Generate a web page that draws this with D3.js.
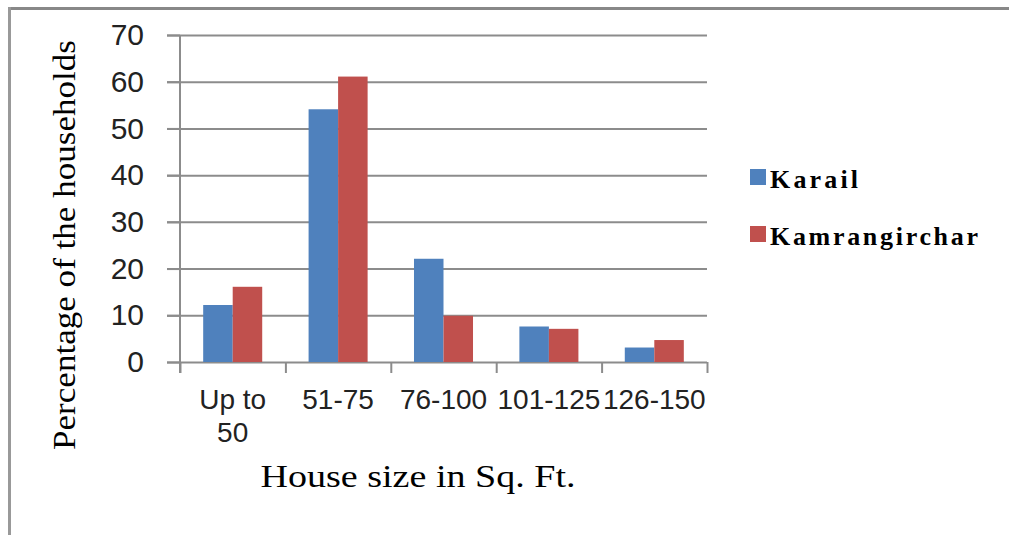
<!DOCTYPE html>
<html>
<head>
<meta charset="utf-8">
<script src="https://cdn.jsdelivr.net/npm/d3@7"></script>
<style>
  body { margin: 0; background: #fff; }
  svg { display: block; }
</style>
</head>
<body>
<svg id="chart" width="1009" height="535"></svg>
<script>
// values (percent of households)
var categories = ["Up to 50", "51-75", "76-100", "101-125", "126-150"];
var seriesNames = ["Karail", "Kamrangirchar"];
var karail = [12.2, 54.1, 22.1, 7.6, 3.1];
var kamrangirchar = [16.1, 61.1, 9.9, 7.1, 4.7];
var yTicks = [0, 10, 20, 30, 40, 50, 60, 70];

var colors = ["#4f81bd", "#c0504d"];
var gridColor = "#8c8c8c";

var svg = d3.select("#chart"),
  margin = {top: 35, right: 302, bottom: 173, left: 180},
  width = +svg.attr("width") - margin.left - margin.right,
  height = +svg.attr("height") - margin.top - margin.bottom;

// outer frame (only top and left edges show)
svg.append("line")
  .attr("x1", 8).attr("y1", 8.5).attr("x2", 1009).attr("y2", 8.5)
  .attr("stroke", "#888").attr("stroke-width", 3);
svg.append("line")
  .attr("x1", 9.5).attr("y1", 7).attr("x2", 9.5).attr("y2", 535)
  .attr("stroke", "#999").attr("stroke-width", 3);

var g = svg.append("g").attr("transform", "translate(" + margin.left + "," + margin.top + ")");

var data = categories.map(function(c, i) {
  return {cat: c, values: [karail[i], kamrangirchar[i]]};
});

var x0 = d3.scaleBand()
  .domain(categories)
  .range([0, width])
  .paddingInner(0.44)
  .paddingOuter(0.22);

var x1 = d3.scaleBand()
  .domain(d3.range(seriesNames.length))
  .range([0, x0.bandwidth()]);

var y = d3.scaleLinear()
  .domain([0, 70])
  .range([height, 0]);

// gridlines, running a bit left of the axis like the ticks
g.append("g")
  .attr("class", "grid")
  .attr("transform", "translate(" + width + ",0)")
  .call(d3.axisLeft(y).tickValues(yTicks).tickSize(width + 13).tickFormat(""))
  .call(function(s) { s.select(".domain").remove(); })
  .selectAll("line")
  .attr("stroke", gridColor)
  .attr("stroke-width", 2);

// y axis
var yAxis = g.append("g")
  .call(d3.axisLeft(y).tickValues(yTicks).tickSize(13).tickPadding(23));
yAxis.select(".domain").remove();
yAxis.selectAll("line").attr("stroke", gridColor).attr("stroke-width", 2);
yAxis.selectAll("text")
  .attr("fill", "#222")
  .style("font-family", "'Liberation Sans', Arial, sans-serif")
  .style("font-size", "30px");

g.append("line")
  .attr("x1", 0).attr("x2", 0)
  .attr("y1", 0).attr("y2", height + 11)
  .attr("stroke", gridColor).attr("stroke-width", 2);

// bars
g.append("g")
  .selectAll("g")
  .data(data)
  .enter().append("g")
  .attr("transform", function(d) { return "translate(" + x0(d.cat) + ",0)"; })
  .selectAll("rect")
  .data(function(d) { return d.values; })
  .enter().append("rect")
  .attr("x", function(d, i) { return x1(i); })
  .attr("y", function(d) { return y(d); })
  .attr("width", x1.bandwidth())
  .attr("height", function(d) { return height - y(d); })
  .attr("fill", function(d, i) { return colors[i]; });

// x axis line + boundary ticks
var xb = d3.scaleLinear().domain([0, categories.length]).range([0, width]);
var xTickAxis = g.append("g")
  .attr("transform", "translate(0," + height + ")")
  .call(d3.axisBottom(xb).ticks(categories.length).tickSize(11).tickFormat(""));
xTickAxis.select(".domain").remove();
xTickAxis.selectAll("line").attr("stroke", gridColor).attr("stroke-width", 2);

// x labels
var xAxis = g.append("g")
  .attr("transform", "translate(0," + height + ")")
  .call(d3.axisBottom(x0).tickSize(0).tickPadding(27));
xAxis.select(".domain").remove();
xAxis.selectAll("text")
  .attr("fill", "#222")
  .style("font-family", "'Liberation Sans', Arial, sans-serif")
  .style("font-size", "28px")
  .call(wrap, 95);

function wrap(text, w) {
  text.each(function() {
    var t = d3.select(this),
      words = t.text().split(/\s+/).reverse(),
      word, line = [], lineNo = 0,
      yy = t.attr("y"), dy = parseFloat(t.attr("dy")),
      tspan = t.text(null).append("tspan").attr("x", 0).attr("y", yy).attr("dy", dy + "em");
    while ((word = words.pop())) {
      line.push(word);
      tspan.text(line.join(" "));
      if (tspan.node().getComputedTextLength() > w && line.length > 1) {
        line.pop();
        tspan.text(line.join(" "));
        line = [word];
        tspan = t.append("tspan").attr("x", 0).attr("y", yy)
          .attr("dy", (++lineNo * 1.2 + dy) + "em").text(word);
      }
    }
  });
}

// axis titles
svg.append("text")
  .attr("x", 418)
  .attr("y", 487)
  .attr("text-anchor", "middle")
  .attr("textLength", 315)
  .attr("lengthAdjust", "spacingAndGlyphs")
  .style("font-family", "'Liberation Serif', 'Times New Roman', serif")
  .style("font-size", "31px")
  .text("House size in Sq. Ft.");

svg.append("text")
  .attr("transform", "translate(75,245) rotate(-90)")
  .attr("text-anchor", "middle")
  .attr("textLength", 410)
  .attr("lengthAdjust", "spacingAndGlyphs")
  .style("font-family", "'Liberation Serif', 'Times New Roman', serif")
  .style("font-size", "31px")
  .text("Percentage of the households");

// legend
var legend = svg.append("g").selectAll("g")
  .data(seriesNames)
  .enter().append("g")
  .attr("transform", function(d, i) { return "translate(750," + (169 + i * 57) + ")"; });

legend.append("rect")
  .attr("width", 16).attr("height", 16)
  .attr("fill", function(d, i) { return colors[i]; });

legend.append("text")
  .attr("x", 20)
  .attr("y", 19)
  .attr("textLength", function(d, i) { return i === 0 ? 88 : 208; })
  .attr("lengthAdjust", "spacing")
  .style("font-family", "'Liberation Serif', 'Times New Roman', serif")
  .style("font-weight", "bold")
  .style("font-size", "26px")
  .text(function(d) { return d; });
</script>
</body>
</html>
